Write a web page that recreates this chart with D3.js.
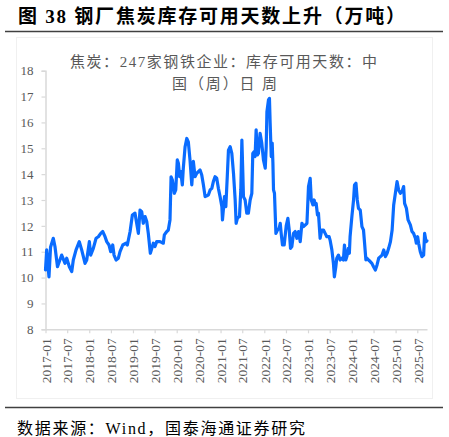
<!DOCTYPE html>
<html>
<head>
<meta charset="utf-8">
<script src="https://cdn.jsdelivr.net/npm/d3@7"></script>
<style>
  html, body { margin: 0; padding: 0; background: #fff; }
</style>
</head>
<body>
<div id="chart"></div>
<script>
// weekly readings (approx.) of the series
const dates = [
  "2017-01-01","2017-01-11","2017-01-30","2017-02-12","2017-03-07","2017-03-21","2017-04-11","2017-05-16","2017-06-13","2017-06-27",
  "2017-07-19","2017-08-08","2017-08-21","2017-09-13","2017-10-10","2017-10-30","2017-11-27","2017-12-11",
  "2018-01-02","2018-01-13","2018-02-04","2018-02-27","2018-03-18","2018-04-07","2018-04-24","2018-05-13","2018-05-27","2018-06-15",
  "2018-06-29","2018-07-16","2018-07-27","2018-08-13","2018-09-01","2018-09-15","2018-10-08","2018-11-04","2018-11-15","2018-12-08","2018-12-27",
  "2019-01-18","2019-02-01","2019-02-15","2019-03-01","2019-03-15","2019-03-28","2019-04-12","2019-04-26","2019-05-09","2019-05-26",
  "2019-06-20","2019-07-04","2019-07-18","2019-08-15","2019-09-11","2019-09-20","2019-10-10","2019-10-23","2019-11-06","2019-11-15",
  "2019-11-26","2019-12-12","2019-12-24",
  "2020-01-06","2020-01-15","2020-01-26","2020-02-04","2020-02-17","2020-02-25","2020-03-11","2020-03-25","2020-04-07","2020-04-21",
  "2020-05-06","2020-05-19","2020-06-02","2020-06-16","2020-06-30","2020-07-14","2020-07-28","2020-08-11","2020-08-25","2020-09-08",
  "2020-09-22","2020-10-06","2020-10-20","2020-11-02","2020-11-16","2020-11-30","2020-12-14","2020-12-28",
  "2021-01-12","2021-01-17","2021-02-03","2021-02-14","2021-02-26","2021-03-08","2021-03-22","2021-04-05","2021-04-19","2021-05-03",
  "2021-05-11","2021-05-22","2021-06-08","2021-06-19","2021-06-28","2021-07-06","2021-07-11","2021-07-25","2021-08-08","2021-08-21",
  "2021-09-05","2021-09-19","2021-09-27","2021-10-08","2021-10-16","2021-10-25","2021-11-04","2021-11-13","2021-11-27","2021-12-11","2021-12-25",
  "2022-01-09","2022-01-17","2022-01-23","2022-02-05","2022-02-13","2022-02-19","2022-02-28","2022-03-08","2022-03-14","2022-03-19",
  "2022-03-27","2022-04-08","2022-04-21","2022-05-05","2022-05-14","2022-05-22","2022-06-02","2022-06-16","2022-07-03","2022-07-17",
  "2022-07-28","2022-08-08","2022-08-19","2022-09-02","2022-09-16","2022-09-30","2022-10-14","2022-10-28","2022-11-11","2022-11-24",
  "2022-12-08","2022-12-23",
  "2023-01-05","2023-01-19","2023-01-28","2023-02-11","2023-02-21","2023-03-04","2023-03-10","2023-03-21","2023-03-29","2023-04-12",
  "2023-04-26","2023-05-10","2023-05-24","2023-06-07","2023-06-26","2023-07-04","2023-07-19","2023-08-01","2023-08-09","2023-08-21",
  "2023-08-29","2023-09-12","2023-09-26","2023-10-10","2023-10-23","2023-11-01","2023-11-12","2023-11-21","2023-12-04","2023-12-12","2023-12-18",
  "2024-01-02","2024-01-16","2024-01-24","2024-02-05","2024-02-16","2024-02-26","2024-03-12","2024-03-26","2024-04-08","2024-04-17",
  "2024-04-28","2024-05-07","2024-05-20","2024-06-03","2024-06-17","2024-07-01","2024-07-16","2024-07-30","2024-08-13","2024-08-27",
  "2024-09-10","2024-09-24","2024-10-08","2024-10-22","2024-11-04","2024-11-19","2024-12-03","2024-12-16","2024-12-30",
  "2025-01-13","2025-01-26","2025-02-10","2025-02-24","2025-03-09","2025-03-17","2025-04-01","2025-04-15","2025-05-04","2025-05-18",
  "2025-05-31","2025-06-15","2025-06-23","2025-07-04","2025-07-12","2025-07-26","2025-08-09","2025-08-23","2025-08-31","2025-09-12","2025-09-20"
];
const values = [
  10.30,11.07,10.03,11.17,11.52,11.20,10.42,10.87,10.55,10.75,
  10.42,10.23,10.68,11.07,11.39,11.07,10.55,10.68,
  11.39,10.87,11.13,11.52,11.58,11.71,11.78,11.58,11.39,11.26,
  11.00,11.26,10.87,10.68,10.75,11.00,11.26,11.33,11.26,11.78,12.42,
  12.49,12.10,11.71,12.61,12.55,12.10,12.36,12.17,11.71,10.94,
  11.33,11.20,11.39,11.39,11.33,11.65,11.78,11.84,12.23,13.90,
  13.77,13.26,13.39,
  14.55,14.42,13.90,14.10,13.58,14.22,15.06,15.38,15.25,14.55,
  13.58,14.49,13.90,14.03,14.10,14.16,13.97,13.58,13.13,13.16,
  13.20,13.39,13.45,13.71,13.90,13.84,13.45,13.13,
  12.74,12.23,13.13,12.74,13.90,14.93,15.06,14.80,14.03,13.00,
  12.10,12.30,12.36,13.39,15.32,14.03,13.13,13.00,12.49,12.49,
  13.00,13.26,14.80,14.87,14.68,15.71,14.74,14.80,15.58,15.20,14.55,
  14.23,15.06,16.41,16.87,16.93,15.97,14.68,15.20,14.42,13.39,
  13.26,11.71,11.84,11.90,12.10,11.71,11.26,11.26,12.00,12.29,
  11.84,11.13,11.20,11.71,11.78,11.52,11.78,11.39,12.10,11.97,
  12.03,12.10,
  13.52,13.84,13.00,12.81,13.00,12.81,12.87,12.42,12.49,11.52,
  11.84,11.84,11.71,11.58,11.58,11.45,11.07,10.55,10.03,10.42,
  10.75,10.87,10.68,10.75,10.68,11.26,10.68,10.81,11.13,10.94,11.58,
  12.36,13.00,13.58,13.65,13.00,12.68,12.61,11.97,11.84,11.33,
  10.68,10.75,10.68,10.62,10.55,10.42,10.29,10.49,10.75,10.81,
  10.87,11.07,10.81,10.94,11.13,11.39,11.84,12.81,13.26,
  13.71,13.39,13.26,13.33,13.52,12.87,12.68,12.23,12.04,11.78,
  11.71,11.52,11.33,11.58,11.33,11.00,10.81,10.87,11.71,11.39,11.42
];
const xTickLabels = ["2017-01","2017-07","2018-01","2018-07","2019-01","2019-07","2020-01","2020-07","2021-01",
  "2021-07","2022-01","2022-07","2023-01","2023-07","2024-01","2024-07","2025-01","2025-07"];
const yTicks = [8, 9, 10, 11, 12, 13, 14, 15, 16, 17, 18];

const titleText = "图 38  钢厂焦炭库存可用天数上升（万吨）";
const seriesName1 = "焦炭：247家钢铁企业：库存可用天数：中";
const seriesName2 = "国（周）日 周";
const sourceText = "数据来源：Wind，国泰海通证券研究";

const W = 449, H = 437;
const margin = { top: 70.7, right: 22, bottom: 108, left: 45.5 };
const width = W - margin.left - margin.right;
const height = 329.3 - margin.top;

const svg = d3.select("#chart").append("svg")
    .attr("width", W)
    .attr("height", H)
    .style("font-family", "'Liberation Serif', 'Noto Sans CJK SC', serif");

// title and rules
svg.append("text")
    .attr("x", 18)
    .attr("y", 23)
    .attr("font-size", 19)
    .attr("font-weight", "bold")
    .attr("fill", "#000")
    .attr("textLength", 387)
    .attr("lengthAdjust", "spacing")
    .text(titleText);

svg.append("line")
    .attr("x1", 5).attr("x2", 443)
    .attr("y1", 31.5).attr("y2", 31.5)
    .attr("stroke", "#404040")
    .attr("stroke-width", 1.3);

// faint chart frame
svg.append("rect")
    .attr("x", 16.5).attr("y", 37.5)
    .attr("width", 416).attr("height", 361)
    .attr("fill", "none")
    .attr("stroke", "#f0f0f0");

svg.append("line")
    .attr("x1", 5).attr("x2", 443)
    .attr("y1", 407.5).attr("y2", 407.5)
    .attr("stroke", "#404040")
    .attr("stroke-width", 1.3);

svg.append("text")
    .attr("x", 17)
    .attr("y", 434)
    .attr("font-size", 16)
    .attr("fill", "#000")
    .attr("textLength", 288)
    .attr("lengthAdjust", "spacing")
    .text(sourceText);

// series name (wrapped in two lines)
svg.append("text")
    .attr("x", 70)
    .attr("y", 67)
    .attr("font-size", 15)
    .attr("fill", "#595959")
    .attr("textLength", 307)
    .attr("lengthAdjust", "spacing")
    .text(seriesName1);

svg.append("text")
    .attr("x", 172)
    .attr("y", 88.5)
    .attr("font-size", 15)
    .attr("fill", "#595959")
    .attr("textLength", 105)
    .attr("lengthAdjust", "spacing")
    .text(seriesName2);

const g = svg.append("g")
    .attr("transform", `translate(${margin.left},${margin.top})`);

const parse = d3.timeParse("%Y-%m-%d");
const parseMonth = d3.timeParse("%Y-%m");
const data = dates.map((d, i) => ({ date: parse(d), value: values[i] }));

const x = d3.scaleTime()
    .domain([parse("2017-01-01"), parse("2025-09-20")])
    .range([0, 381.5]);

const y = d3.scaleLinear()
    .domain([8, 18])
    .range([height, 0]);

// y axis
const yAxis = g.append("g")
    .call(d3.axisLeft(y).tickValues(yTicks).tickSize(4).tickPadding(8).tickFormat(d3.format("d")));
yAxis.select(".domain").attr("stroke", "#d9d9d9").attr("stroke-width", 1.5);
yAxis.selectAll(".tick line").attr("stroke", "#d9d9d9").attr("stroke-width", 1.2);
yAxis.selectAll("text")
    .attr("font-size", 13)
    .attr("fill", "#595959")
    .style("font-family", "'Liberation Serif', serif");

// x axis
const xAxis = g.append("g")
    .attr("transform", `translate(0,${height})`)
    .call(d3.axisBottom(x)
        .tickValues(xTickLabels.map(parseMonth))
        .tickSize(4)
        .tickSizeOuter(0)
        .tickFormat(d3.timeFormat("%Y-%m")));
xAxis.select(".domain").attr("stroke", "#d9d9d9").attr("stroke-width", 1.5);
xAxis.selectAll(".tick line").attr("stroke", "#d9d9d9").attr("stroke-width", 1.2);
xAxis.selectAll("text")
    .attr("font-size", 13.5)
    .attr("fill", "#595959")
    .style("font-family", "'Liberation Serif', serif")
    .attr("transform", "rotate(-90)")
    .attr("x", -9)
    .attr("y", 0)
    .attr("dy", "0.35em")
    .style("text-anchor", "end");

// line
const line = d3.line()
    .x(d => x(d.date))
    .y(d => y(d.value));

g.append("path")
    .datum(data)
    .attr("fill", "none")
    .attr("stroke", "#0a6cff")
    .attr("stroke-width", 3.2)
    .attr("stroke-linejoin", "round")
    .attr("stroke-linecap", "round")
    .attr("d", line);
</script>
</body>
</html>
